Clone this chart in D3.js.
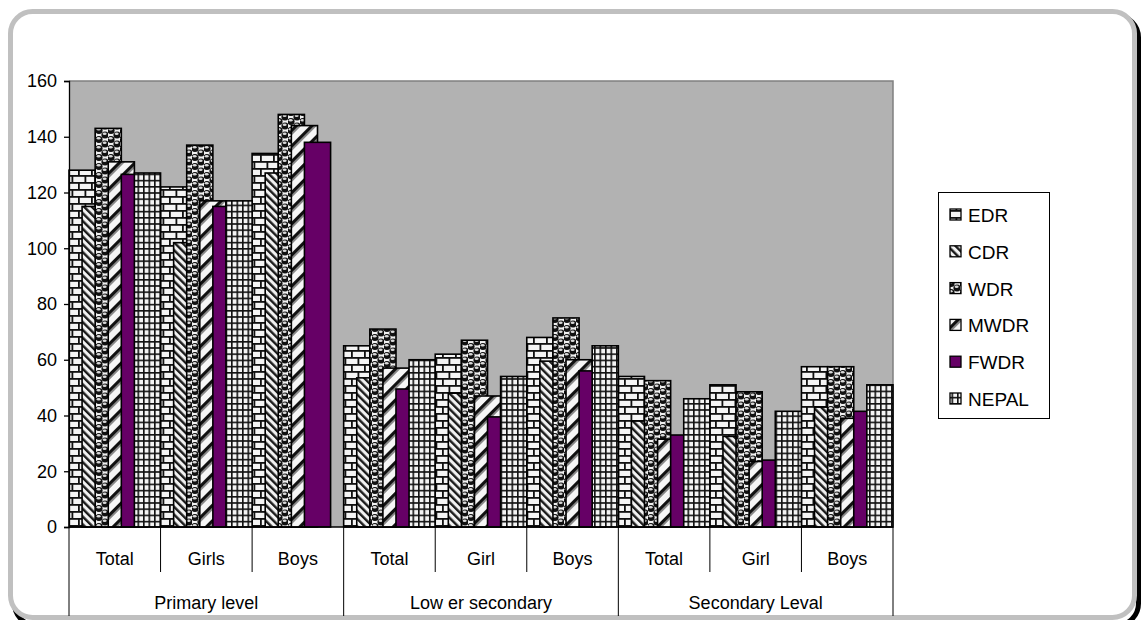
<!DOCTYPE html>
<html>
<head>
<meta charset="utf-8">
<script src="https://cdn.jsdelivr.net/npm/d3@7/dist/d3.min.js"></script>
<style>
  html, body { margin: 0; padding: 0; background: #ffffff; }
  svg { display: block; }
  text { font-family: "Liberation Sans", Arial, sans-serif; fill: #000; }
</style>
</head>
<body>
<svg id="chart" width="1141" height="620"></svg>
<script>
// ---- data ----
const groups = ["Primary level", "Low er secondary", "Secondary Leval"];
const subCategories = [
  ["Total", "Girls", "Boys"],
  ["Total", "Girl", "Boys"],
  ["Total", "Girl", "Boys"]
];
const seriesNames = ["EDR", "CDR", "WDR", "MWDR", "FWDR", "NEPAL"];
const EDR   = [128, 122, 134, 65, 62, 68, 54, 51, 57.5];
const CDR   = [115, 102, 127, 53.5, 48, 59.5, 38, 32.5, 43];
const WDR   = [143, 137, 148, 71, 67, 75, 52.5, 48.5, 57.5];
const MWDR  = [131, 117, 144, 57, 47, 60, 31.5, 23.5, 39];
const FWDR  = [126.5, 115, 138, 49.5, 39.5, 56, 33, 24, 41.5];
const NEPAL = [127, 117, null, 60, 54, 65, 46, 41.5, 51];
const yTicks = [0, 20, 40, 60, 80, 100, 120, 140, 160];

const seriesValues = [EDR, CDR, WDR, MWDR, FWDR, NEPAL];

// ---- layout ----
const svg = d3.select("#chart");
const plot = { left: 69, right: 893, top: 81, bottom: 527 };

const defs = svg.append("defs");

// Brick pattern (EDR)
const pBrick = defs.append("pattern").attr("id", "pEDR").attr("patternUnits", "userSpaceOnUse")
  .attr("width", 13).attr("height", 14);
pBrick.append("rect").attr("width", 13).attr("height", 14).attr("fill", "#f4f4f4");
pBrick.append("rect").attr("x", 0).attr("y", 0).attr("width", 13).attr("height", 1.8).attr("fill", "#111");
pBrick.append("rect").attr("x", 0).attr("y", 7).attr("width", 13).attr("height", 1.8).attr("fill", "#111");
pBrick.append("rect").attr("x", 0).attr("y", 0).attr("width", 1.8).attr("height", 7).attr("fill", "#111");
pBrick.append("rect").attr("x", 6.5).attr("y", 7).attr("width", 1.8).attr("height", 7).attr("fill", "#111");

// Dark downward diagonal (CDR)
const pCDR = defs.append("pattern").attr("id", "pCDR").attr("patternUnits", "userSpaceOnUse")
  .attr("width", 5.5).attr("height", 5.5).attr("patternTransform", "rotate(-45)");
pCDR.append("rect").attr("width", 5.5).attr("height", 5.5).attr("fill", "#f2f2f2");
pCDR.append("rect").attr("x", 0).attr("y", 0).attr("width", 2.4).attr("height", 5.5).attr("fill", "#1a1a1a");

// Sphere pattern (WDR)
const pWDR = defs.append("pattern").attr("id", "pWDR").attr("patternUnits", "userSpaceOnUse")
  .attr("width", 12).attr("height", 9);
pWDR.append("rect").attr("width", 12).attr("height", 9).attr("fill", "#f0f0f0");
[[3, 4.5], [9, 0], [9, 9]].forEach(([cx, cy]) => {
  pWDR.append("circle").attr("cx", cx).attr("cy", cy).attr("r", 3.6).attr("fill", "#111");
  pWDR.append("ellipse").attr("cx", cx - 0.4).attr("cy", cy - 1.3).attr("rx", 2).attr("ry", 1.2).attr("fill", "#d8d8d8");
});

// Wide upward diagonal (MWDR)
const pMWDR = defs.append("pattern").attr("id", "pMWDR").attr("patternUnits", "userSpaceOnUse")
  .attr("width", 11).attr("height", 11).attr("patternTransform", "rotate(45)");
pMWDR.append("rect").attr("width", 11).attr("height", 11).attr("fill", "#f6f6f6");
pMWDR.append("rect").attr("x", 0).attr("y", 0).attr("width", 3.5).attr("height", 11).attr("fill", "#111");
pMWDR.append("rect").attr("x", 3.5).attr("y", 0).attr("width", 1.5).attr("height", 11).attr("fill", "#888");

// Grid pattern (NEPAL)
const pNEP = defs.append("pattern").attr("id", "pNEPAL").attr("patternUnits", "userSpaceOnUse")
  .attr("width", 5.5).attr("height", 6.2);
pNEP.append("rect").attr("width", 5.5).attr("height", 6.2).attr("fill", "#f4f4f4");
pNEP.append("rect").attr("x", 0).attr("y", 0).attr("width", 1.6).attr("height", 6.2).attr("fill", "#111");
pNEP.append("rect").attr("x", 0).attr("y", 0).attr("width", 5.5).attr("height", 1.6).attr("fill", "#111");

const fills = {
  EDR: "url(#pEDR)", CDR: "url(#pCDR)", WDR: "url(#pWDR)",
  MWDR: "url(#pMWDR)", FWDR: "#660066", NEPAL: "url(#pNEPAL)"
};

// outer frame with shadow
svg.append("rect").attr("x", 14.5).attr("y", 15.5).attr("width", 1124).attr("height", 610)
  .attr("rx", 22).attr("ry", 22).attr("fill", "none").attr("stroke", "#000").attr("stroke-width", 5);
svg.append("rect").attr("x", 10.5).attr("y", 11.5).attr("width", 1124).attr("height", 606)
  .attr("rx", 22).attr("ry", 22).attr("fill", "#fff").attr("stroke", "#c0c0c0").attr("stroke-width", 5);

// scales
const catKeys = d3.range(9);
const x = d3.scaleBand().domain(catKeys).range([plot.left, plot.right]).paddingInner(0).paddingOuter(0);
const y = d3.scaleLinear().domain([0, 160]).range([plot.bottom, plot.top]);

// plot background
svg.append("rect").attr("x", plot.left).attr("y", plot.top)
  .attr("width", plot.right - plot.left).attr("height", plot.bottom - plot.top)
  .attr("fill", "#b2b2b2");
svg.append("path")
  .attr("d", `M${plot.left},${plot.top}H${plot.right}V${plot.bottom}`)
  .attr("fill", "none").attr("stroke", "#808080").attr("stroke-width", 1.5);

// bars: overlapping (50% overlap, gap 0)
const bw = x.bandwidth() / 3.5;
const step = bw / 2;
seriesNames.forEach((name, si) => {
  const vals = seriesValues[si];
  svg.append("g").selectAll("rect")
    .data(catKeys.filter(i => vals[i] != null))
    .join("rect")
    .attr("x", i => x(i) + si * step)
    .attr("y", i => y(vals[i]))
    .attr("width", bw)
    .attr("height", i => y(0) - y(vals[i]))
    .attr("fill", fills[name])
    .attr("stroke", "#000")
    .attr("stroke-width", 1.6);
});

// y axis
const yAxis = d3.axisLeft(y).tickValues(yTicks).tickSize(5).tickPadding(7);
const gy = svg.append("g").attr("transform", `translate(${plot.left},0)`).call(yAxis);
gy.select(".domain").attr("stroke", "#000").attr("stroke-width", 1.3);
gy.selectAll(".tick line").attr("stroke", "#000").attr("stroke-width", 1.3);
gy.selectAll(".tick text").attr("font-size", 18).attr("font-family", "Liberation Sans, Arial, sans-serif").attr("fill", "#000");

// x axis (multi-level)
const gx = svg.append("g");
gx.append("line").attr("x1", plot.left).attr("x2", plot.right).attr("y1", plot.bottom).attr("y2", plot.bottom)
  .attr("stroke", "#000").attr("stroke-width", 1.5);
const boundaries = catKeys.map(i => x(i)).concat([plot.right]);
boundaries.forEach((bx, k) => {
  const isGroup = k % 3 === 0;
  gx.append("line").attr("x1", bx).attr("x2", bx).attr("y1", plot.bottom)
    .attr("y2", isGroup ? 616 : 572).attr("stroke", "#000").attr("stroke-width", 1);
});
catKeys.forEach(i => {
  const g = Math.floor(i / 3), s = i % 3;
  gx.append("text").attr("x", x(i) + x.bandwidth() / 2).attr("y", 565)
    .attr("text-anchor", "middle").attr("font-size", 18).text(subCategories[g][s]);
});
groups.forEach((gname, g) => {
  const x0 = x(g * 3), x1 = x(g * 3 + 2) + x.bandwidth();
  gx.append("text").attr("x", (x0 + x1) / 2).attr("y", 609)
    .attr("text-anchor", "middle").attr("font-size", 18).text(gname);
});

// legend
const leg = svg.append("g");
leg.append("rect").attr("x", 938.5).attr("y", 192.5).attr("width", 111).attr("height", 226)
  .attr("fill", "#fff").attr("stroke", "#000").attr("stroke-width", 1);
seriesNames.forEach((name, i) => {
  const cy = 215 + i * 36.8;
  leg.append("rect").attr("x", 950).attr("y", cy - 6).attr("width", 11).attr("height", 11)
    .attr("fill", fills[name]).attr("stroke", "#000").attr("stroke-width", 1.3);
  leg.append("text").attr("x", 968).attr("y", cy + 7).attr("font-size", 19).text(name);
});
</script>
</body>
</html>
